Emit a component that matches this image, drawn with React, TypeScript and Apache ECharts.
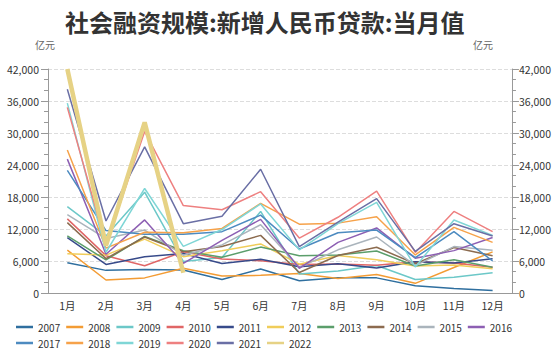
import React, { useEffect, useRef } from "react";
import * as echarts from "echarts";

const months = ["1月", "2月", "3月", "4月", "5月", "6月", "7月", "8月", "9月", "10月", "11月", "12月"];
const years = ["2007", "2008", "2009", "2010", "2011", "2012", "2013", "2014", "2015", "2016", "2017", "2018", "2019", "2020", "2021", "2022"];

const v2007 = [5672, 4243, 4417, 4331, 2515, 4514, 2311, 2871, 2838, 1361, 861, 485];
const v2008 = [8037, 2443, 2834, 4645, 3185, 3316, 3635, 2715, 3452, 1814, 4769, 7718];
const v2009 = [16200, 10700, 18900, 5918, 6645, 15300, 3559, 4104, 5167, 2530, 2948, 3798];
const v2010 = [13900, 7000, 5107, 7740, 6394, 6034, 5328, 5452, 5185, 5877, 5640, 4807];
const v2011 = [10400, 5356, 6794, 7396, 5516, 6339, 4925, 5485, 4700, 5868, 5622, 6405];
const v2012 = [7381, 7107, 10100, 6818, 7932, 9198, 5401, 7039, 6232, 5053, 5229, 4543];
const v2013 = [10700, 6200, 10600, 7929, 6694, 8605, 6999, 7128, 7870, 5061, 6246, 4825];
const v2014 = [13200, 6445, 10500, 7747, 8708, 10800, 3852, 7025, 8572, 5483, 8527, 6978];
const v2015 = [14700, 10200, 11800, 7079, 9008, 12800, 4800, 8096, 10500, 5136, 8700, 8000];
const v2016 = [25100, 7266, 13700, 5556, 9855, 13800, 4636, 9487, 12200, 6513, 7946, 10400];
const v2017 = [23000, 11700, 11000, 11000, 11500, 14600, 8255, 11300, 11800, 6632, 11500, 6000];
const v2018 = [26800, 8424, 11400, 11300, 12100, 16800, 12900, 13100, 14300, 7141, 12300, 9500];
const v2019 = [35600, 7641, 19600, 8733, 11900, 16700, 8086, 13000, 17000, 4877, 13700, 10800];
const v2020 = [34800, 9057, 30300, 16400, 15600, 19000, 10300, 14200, 19100, 7600, 15300, 11500];
const v2021 = [38200, 13500, 27400, 13000, 14400, 23200, 8700, 13300, 17700, 7800, 13000, 10700];
const v2022 = [42000, 8900, 32000, 3800];

const seriesValues = [v2007, v2008, v2009, v2010, v2011, v2012, v2013, v2014, v2015, v2016, v2017, v2018, v2019, v2020, v2021, v2022];

const colors = [
  "#2f6f9f", "#f39c34", "#6cc8c8", "#e06666", "#374a8a", "#f0cd5a", "#5b9e6b", "#8c6b4f",
  "#aab4bc", "#8d5fb3", "#4d8bc0", "#f6a24a", "#7fd6d6", "#ee8080", "#6a6fa5", "#e6d285",
];

const FONT = "'Noto Sans CJK SC', 'Noto Sans', sans-serif";

export default function App() {
  const ref = useRef<HTMLDivElement>(null);
  useEffect(() => {
    if (!ref.current) return;
    const chart = echarts.init(ref.current, null, { renderer: "svg" });
    const yAxisBase = {
      type: "value",
      min: 0,
      max: 42000,
      interval: 6000,
      axisLine: { show: true, lineStyle: { color: "#999" } },
      axisTick: { show: true, length: 7, lineStyle: { color: "#999" } },
      minorTick: { show: true, splitNumber: 3, length: 4, lineStyle: { color: "#999" } },
      axisLabel: {
        fontSize: 10.5,
        color: "#333",
        fontFamily: FONT,
        formatter: (v: number) => v.toLocaleString("en-US"),
      },
    };
    const legendBase = {
      left: 11,
      icon: "rect",
      itemWidth: 17,
      itemHeight: 2.5,
      itemGap: 6,
      textStyle: { fontSize: 10, color: "#333", fontFamily: FONT },
    };
    chart.setOption({
      animation: false,
      color: colors,
      title: {
        text: "社会融资规模:新增人民币贷款:当月值",
        left: 60,
        top: 4,
        textStyle: { fontSize: 24, fontWeight: "bold", color: "#333", fontFamily: FONT },
      },
      graphic: [
        { type: "text", left: 35, top: 39, style: { text: "亿元", fontSize: 10, fill: "#666", fontFamily: FONT } },
        { type: "text", left: 473, top: 39, style: { text: "亿元", fontSize: 10, fill: "#666", fontFamily: FONT } },
      ],
      legend: [
        { ...legendBase, top: 317, data: years.slice(0, 10) },
        { ...legendBase, top: 333, data: years.slice(10) },
      ],
      grid: { left: 48, right: 41, top: 69, bottom: 58, containLabel: false },
      xAxis: {
        type: "category",
        data: months,
        boundaryGap: true,
        axisLine: { lineStyle: { color: "#999" } },
        axisTick: { alignWithLabel: true, length: 6, lineStyle: { color: "#999" } },
        axisLabel: { fontSize: 10.5, color: "#333", fontFamily: FONT, margin: 7 },
      },
      yAxis: [
        {
          ...yAxisBase,
          position: "left",
          splitLine: { show: true, lineStyle: { color: "#ddd", type: "dashed" } },
          axisLabel: { ...yAxisBase.axisLabel, margin: 9 },
        },
        {
          ...yAxisBase,
          position: "right",
          splitLine: { show: false },
          axisLabel: { ...yAxisBase.axisLabel, margin: 7 },
        },
      ],
      series: years.map((y, i) => ({
        name: y,
        type: "line",
        data: seriesValues[i],
        symbol: "none",
        lineStyle: { width: y === "2022" ? 4.5 : 1.5, color: colors[i] },
        itemStyle: { color: colors[i] },
      })),
    });
    return () => chart.dispose();
  }, []);
  return <div ref={ref} style={{ width: 554, height: 351, position: "absolute", left: 0, top: 0 }} />;
}
